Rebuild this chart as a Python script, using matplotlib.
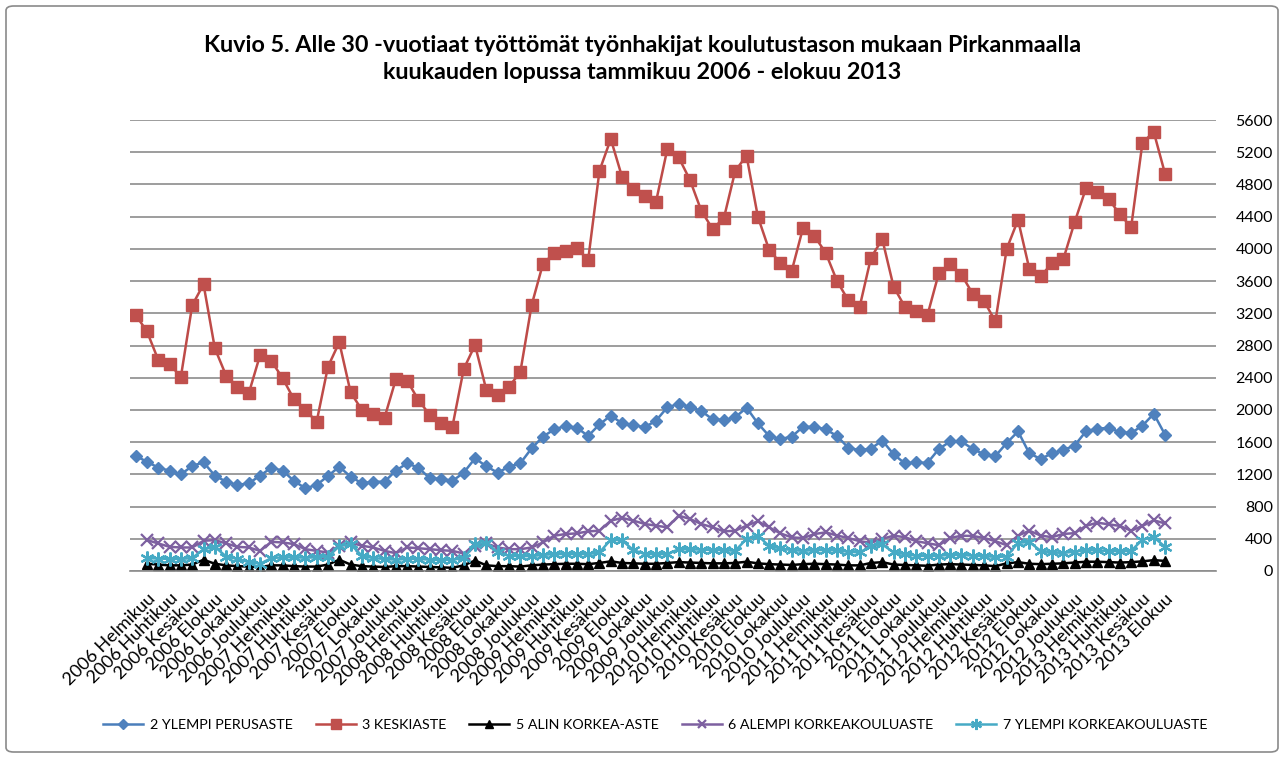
import matplotlib.pyplot as plt
import numpy as np
from matplotlib.patches import FancyBboxPatch

plt.rcParams['font.family'] = ['Lato', 'DejaVu Sans']

# kuukaudet tammikuu 2006 - elokuu 2013
kuukaudet = ['Tammikuu', 'Helmikuu', 'Maaliskuu', 'Huhtikuu', 'Toukokuu', 'Kesäkuu',
             'Heinäkuu', 'Elokuu', 'Syyskuu', 'Lokakuu', 'Marraskuu', 'Joulukuu']
vuodet = [2006, 2007, 2008, 2009, 2010, 2011, 2012, 2013]
kaikki = [f'{v} {k}' for v in vuodet for k in kuukaudet][:92]

ylempi_perusaste = [1428, 1357, 1283, 1246, 1200, 1304, 1350, 1184, 1109, 1068, 1089, 1184,
                    1283, 1246, 1118, 1027, 1068, 1180, 1295, 1171, 1089, 1109, 1109, 1246,
                    1337, 1283, 1151, 1147, 1118, 1221, 1399, 1300, 1221, 1295, 1337, 1523,
                    1668, 1759, 1800, 1780, 1676, 1821, 1929, 1834, 1813, 1784, 1867, 2033,
                    2074, 2040, 1987, 1883, 1875, 1908, 2028, 1834, 1676, 1639, 1668, 1792,
                    1790, 1760, 1675, 1530, 1500, 1520, 1620, 1449, 1336, 1348, 1343, 1515,
                    1608, 1608, 1515, 1449, 1428, 1589, 1733, 1461, 1391, 1461, 1502, 1558,
                    1733, 1768, 1776, 1726, 1713, 1805, 1952, 1692]

keskiaste = [3180, 2975, 2620, 2566, 2413, 3300, 3560, 2765, 2425, 2289, 2206, 2682,
             2607, 2392, 2130, 1999, 1854, 2537, 2840, 2219, 1999, 1949, 1904, 2380,
             2363, 2123, 1937, 1842, 1792, 2508, 2806, 2247, 2185, 2289, 2467, 3300,
             3812, 3948, 3974, 4010, 3862, 4970, 5364, 4892, 4743, 4656, 4586, 5240,
             5137, 4855, 4474, 4247, 4383, 4967, 5157, 4400, 3986, 3824, 3729, 4263,
             4160, 3950, 3600, 3360, 3280, 3890, 4120, 3530, 3280, 3230, 3180, 3700,
             3810, 3680, 3440, 3350, 3100, 4000, 4360, 3750, 3660, 3820, 3870, 4330,
             4750, 4700, 4620, 4430, 4270, 5320, 5450, 4930]

# alemmat sarjat alkavat helmikuusta 2006
alin_korkea = [90, 80, 70, 70, 80, 140, 90, 70, 60, 55, 50,
               70, 70, 60, 55, 55, 80, 140, 80, 60, 55, 50, 60,
               60, 55, 50, 45, 40, 70, 130, 70, 60, 60, 55, 70,
               80, 85, 90, 90, 85, 100, 120, 100, 95, 90, 90, 100,
               110, 105, 100, 95, 95, 100, 115, 95, 85, 80, 75, 85,
               90, 85, 80, 70, 70, 100, 110, 80, 75, 70, 65, 80,
               85, 80, 75, 70, 60, 95, 110, 90, 85, 90, 95, 105,
               115, 115, 110, 105, 110, 120, 135, 125]

alempi_kk = [384, 342, 300, 292, 292, 375, 384, 342, 300, 292, 250,
             363, 354, 334, 271, 250, 229, 313, 354, 313, 292, 250, 221,
             292, 283, 271, 258, 250, 217, 313, 342, 292, 271, 271, 292,
             354, 438, 459, 467, 492, 500, 625, 659, 625, 584, 563, 542,
             688, 646, 584, 542, 492, 500, 563, 617, 542, 467, 417, 409,
             459, 480, 440, 410, 370, 350, 400, 438, 420, 370, 345, 320,
             410, 438, 435, 410, 370, 320, 440, 500, 440, 420, 460, 470,
             560, 600, 580, 560, 500, 560, 630, 590]

ylempi_kk = [160, 155, 150, 150, 160, 270, 300, 180, 150, 110, 90,
             160, 170, 170, 165, 170, 180, 310, 330, 190, 160, 150, 140,
             150, 150, 140, 135, 140, 160, 330, 350, 230, 190, 185, 185,
             200, 210, 210, 210, 210, 230, 390, 380, 260, 210, 210, 210,
             270, 270, 265, 260, 260, 250, 400, 440, 310, 280, 260, 250,
             260, 260, 255, 240, 230, 310, 330, 230, 210, 190, 185, 190,
             200, 200, 190, 185, 175, 180, 350, 360, 250, 230, 225, 240,
             260, 255, 250, 245, 250, 390, 420, 300]

x = np.arange(len(kaikki))

fig = plt.figure(figsize=(12.85, 7.58), dpi=100)
ax = fig.add_axes([130 / 1285, 1 - 571 / 758, 1086 / 1285, 451 / 758])

ax.plot(x, ylempi_perusaste, color='#4A7EBB', lw=1.8, marker='D', ms=6.5,
        mfc='#4F81BD', mec='#4F81BD', label='2 YLEMPI PERUSASTE')
ax.plot(x, keskiaste, color='#BE4B48', lw=1.8, marker='s', ms=8.5,
        mfc='#C0504D', mec='#C0504D', label='3 KESKIASTE')
ax.plot(x[1:], alin_korkea, color='black', lw=1.8, marker='^', ms=7.5,
        label='5 ALIN KORKEA-ASTE')
ax.plot(x[1:], alempi_kk, color='#7D60A0', lw=1.8, marker='x', ms=8, mew=1.6,
        label='6 ALEMPI KORKEAKOULUASTE')
ax.plot(x[1:], ylempi_kk, color='#46AAC5', lw=1.8, marker=(6, 2, 0), ms=10, mew=1.6,
        label='7 YLEMPI KORKEAKOULUASTE')

ax.set_xlim(-0.5, 95.5)
ax.set_ylim(0, 5600)
ax.set_yticks(np.arange(0, 5601, 400))
ax.yaxis.tick_right()
ax.tick_params(axis='y', length=0, pad=41, labelsize=11.5)
for t in ax.get_yticklabels():
    t.set_ha('right')
ax.grid(axis='y', color='#8C8C8C', lw=1.2)
ax.set_axisbelow(True)

ax.set_xticks(x[1::2])
ax.set_xticklabels(kaikki[1::2], rotation=45, ha='right', va='top',
                   rotation_mode='anchor', fontsize=13)
ax.tick_params(axis='x', length=0, pad=14)

for s in ['left', 'right', 'top']:
    ax.spines[s].set_visible(False)
ax.spines['bottom'].set_color('#8C8C8C')
ax.spines['bottom'].set_linewidth(1.2)

fig.text(0.5, 1 - 59 / 758,
         'Kuvio 5. Alle 30 -vuotiaat työttömät työnhakijat koulutustason mukaan Pirkanmaalla\n'
         'kuukauden lopussa tammikuu 2006 - elokuu 2013',
         ha='center', va='center', fontsize=16.8, fontweight='bold', linespacing=1.3)

fig.legend(loc='center', bbox_to_anchor=(0.51, 1 - 725 / 758), ncol=5, frameon=False,
           fontsize=10.3, handlelength=2.8, columnspacing=1.6, handletextpad=0.45,
           markerscale=0.8)

fig.patches.append(FancyBboxPatch((6 / 1285, 6 / 758), 1272 / 1285, 746 / 758,
                                  boxstyle='round,pad=0,rounding_size=0.006',
                                  transform=fig.transFigure, fill=False,
                                  edgecolor='#8A8A8A', lw=1.2))

fig.savefig('out.png', dpi=100)
